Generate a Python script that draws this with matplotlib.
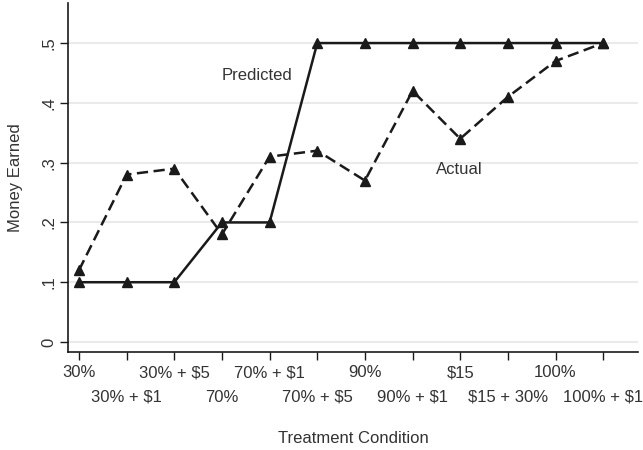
import matplotlib.pyplot as plt
import numpy as np

# ── Data ─────────────────────────────────────────────────────────────────────
conditions = ["30%", "30% + $1", "30% + $5", "70%", "70% + $1", "70% + $5",
              "90%", "90% + $1", "$15", "$15 + 30%", "100%", "100% + $1"]
predicted = [0.10, 0.10, 0.10, 0.20, 0.20, 0.50, 0.50, 0.50, 0.50, 0.50, 0.50, 0.50]
actual = [0.12, 0.28, 0.29, 0.18, 0.31, 0.32, 0.27, 0.42, 0.34, 0.41, 0.47, 0.50]
y_ticks = [0, 0.1, 0.2, 0.3, 0.4, 0.5]
y_tick_labels = ["0", ".1", ".2", ".3", ".4", ".5"]

plt.rcParams["font.family"] = ["Liberation Sans", "DejaVu Sans"]
ink = "#1a1a1a"
txt = "#333333"
fs = 12

# ── Plot ─────────────────────────────────────────────────────────────────────
fig = plt.figure(figsize=(6.43, 4.5), dpi=100)
ax = fig.add_axes([68 / 643, 1 - 352 / 450, (638 - 68) / 643, (352 - 3) / 450])

x = np.arange(len(conditions))
ax.plot(x, predicted, color=ink, linewidth=1.8, marker="^", markersize=7.5,
        zorder=3)
ax.plot(x, actual, color=ink, linewidth=1.8, linestyle=(0, (4.5, 2.2)),
        marker="^", markersize=7.5, zorder=3)

ax.text(3.74, 0.4465, "Predicted", fontsize=fs, color=txt,
        ha="center", va="center")
ax.text(7.99, 0.289, "Actual", fontsize=fs, color=txt,
        ha="center", va="center")

ax.set_xlim(-0.23, 11.73)
ax.set_ylim(-0.0167, 0.567)

ax.set_yticks(y_ticks)
ax.set_yticklabels(y_tick_labels, rotation=90, va="center", fontsize=fs,
                   color=txt)
ax.grid(axis="y", color="#eaeaea", linewidth=1.5, zorder=0)

# alternating two-row tick labels
ax.set_xticks(x[0::2])
ax.set_xticklabels(conditions[0::2], fontsize=fs, color=txt)
ax.set_xticks(x[1::2], minor=True)
ax.set_xticklabels(conditions[1::2], minor=True, fontsize=fs, color=txt)
ax.tick_params(axis="x", which="major", length=5.5, width=1, color=ink, pad=4)
ax.tick_params(axis="x", which="minor", length=5.5, width=1, color=ink, pad=21.5)
ax.tick_params(axis="y", length=5.5, width=1, color=ink, pad=3)

for side in ["top", "right"]:
    ax.spines[side].set_visible(False)
for side in ["left", "bottom"]:
    ax.spines[side].set_color(ink)
    ax.spines[side].set_linewidth(1.2)

ax.set_xlabel("Treatment Condition", fontsize=fs, color=txt, labelpad=19)
ax.set_ylabel("Money Earned", fontsize=fs, color=txt, labelpad=13)

fig.savefig("out.png", dpi=100)
